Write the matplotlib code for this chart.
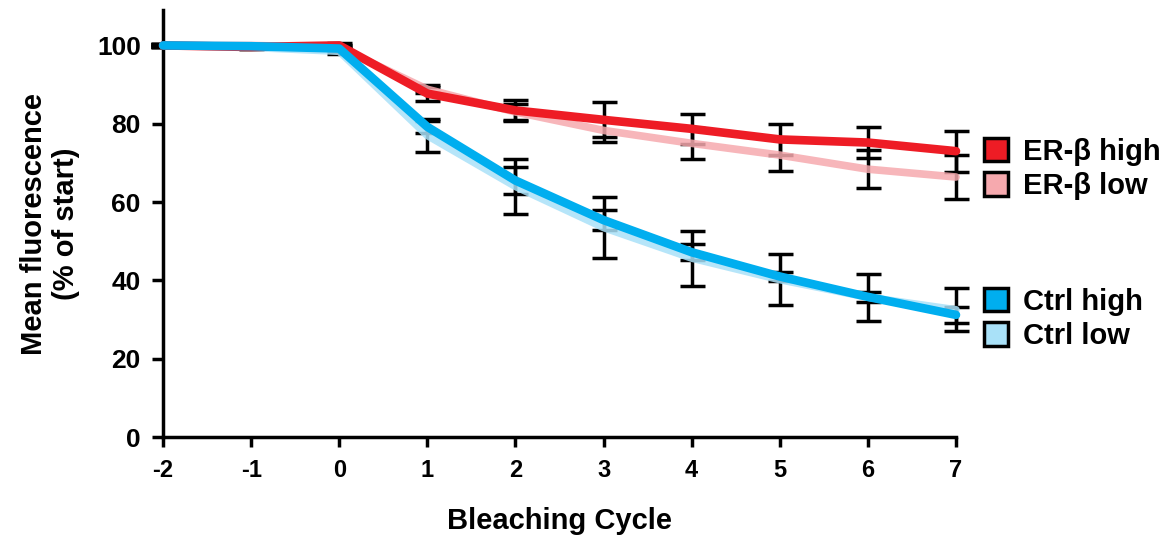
import matplotlib
matplotlib.use('Agg')
import matplotlib.pyplot as plt
from matplotlib.patches import Patch

plt.rcParams['font.family'] = ['Liberation Sans', 'DejaVu Sans']
plt.rcParams['font.weight'] = 'bold'
plt.rcParams['axes.unicode_minus'] = False

# Bleaching cycles
cycles = [-2, -1, 0, 1, 2, 3, 4, 5, 6, 7]

# Mean fluorescence (% of start)
er_high = [100, 99.6, 100, 87.7, 83.4, 81.0, 78.7, 76.0, 75.2, 73.0]
er_low = [100, 100, 99.5, 88.8, 83.0, 78.3, 75.0, 72.0, 68.4, 66.4]
ctrl_high = [100, 99.8, 99.2, 79.2, 65.5, 55.4, 47.2, 41.0, 35.8, 31.2]
ctrl_low = [100, 99.5, 98.5, 77.0, 64.0, 53.5, 45.7, 40.2, 35.7, 32.5]

# Error bars
er_high_err = [0.4, 0.4, 0.6, 1.8, 2.6, 4.5, 3.9, 4.0, 4.0, 5.2]
er_low_err = [0.4, 0.4, 0.6, 1.0, 2.0, 3.0, 4.0, 4.0, 4.9, 5.5]
ctrl_high_err = [0.4, 0.4, 0.6, 1.5, 3.5, 2.5, 2.0, 1.2, 1.3, 2.0]
ctrl_low_err = [0.4, 0.4, 0.6, 4.2, 7.0, 7.8, 7.0, 6.5, 6.0, 5.5]

red = '#EE1C25'
pink = '#F6A9AE'
blue = '#00AEEF'
lightblue = '#A9E1F8'

fig = plt.figure(figsize=(11.73, 5.35), dpi=100)
ax = fig.add_axes([0.139, 0.183, 0.676, 0.798])

# error bars first, lines on top
for vals, errs in [(er_high, er_high_err), (er_low, er_low_err),
                   (ctrl_high, ctrl_high_err), (ctrl_low, ctrl_low_err)]:
    eb = ax.errorbar(cycles, vals, yerr=errs, fmt='none', ecolor='black',
                     elinewidth=2.5, capsize=9, capthick=2.5, zorder=2)
    for art in eb.lines[1] + eb.lines[2]:
        art.set_clip_on(False)

ax.plot(cycles, er_low, color=pink, lw=5.5, alpha=0.85, solid_capstyle='round', zorder=3, clip_on=False)
ax.plot(cycles, ctrl_low, color=lightblue, lw=5.5, alpha=0.85, solid_capstyle='round', zorder=3, clip_on=False)
ax.plot(cycles, er_high, color=red, lw=6.2, solid_capstyle='round', zorder=4, clip_on=False)
ax.plot(cycles, ctrl_high, color=blue, lw=6.2, solid_capstyle='round', zorder=4, clip_on=False)

ax.set_xlim(-2, 7)
ax.set_ylim(0, 109)
ax.set_xticks(cycles)
ax.set_yticks([0, 20, 40, 60, 80, 100])
ax.tick_params(axis='both', width=2.5, direction='out')
ax.tick_params(axis='y', length=8, pad=8, labelsize=19)
ax.tick_params(axis='x', length=7, pad=9, labelsize=17)
for lab in ax.get_xticklabels() + ax.get_yticklabels():
    lab.set_fontweight('bold')

for s in ['top', 'right']:
    ax.spines[s].set_visible(False)
for s in ['left', 'bottom']:
    ax.spines[s].set_linewidth(2.5)

ax.set_xlabel('Bleaching Cycle', fontsize=21, fontweight='bold', labelpad=18)
ax.set_ylabel('Mean fluorescence\n(% of start)', fontsize=21, fontweight='bold', labelpad=12)

# two legend groups on the right
h1 = [Patch(facecolor=red, edgecolor='black', lw=2.5, label='ER-β high'),
      Patch(facecolor=pink, edgecolor='black', lw=2.5, label='ER-β low')]
h2 = [Patch(facecolor=blue, edgecolor='black', lw=2.5, label='Ctrl high'),
      Patch(facecolor=lightblue, edgecolor='black', lw=2.5, label='Ctrl low')]
leg_kw = dict(frameon=False, handlelength=0.85, handleheight=0.85, handletextpad=0.5,
              labelspacing=0.22, borderaxespad=0.55, prop={'size': 21, 'weight': 'bold'},
              loc='center left')
leg1 = ax.legend(handles=h1, bbox_to_anchor=(1.0, 0.628), **leg_kw)
ax.add_artist(leg1)
ax.legend(handles=h2, bbox_to_anchor=(1.0, 0.277), **leg_kw)

fig.savefig('out.png', dpi=100)
